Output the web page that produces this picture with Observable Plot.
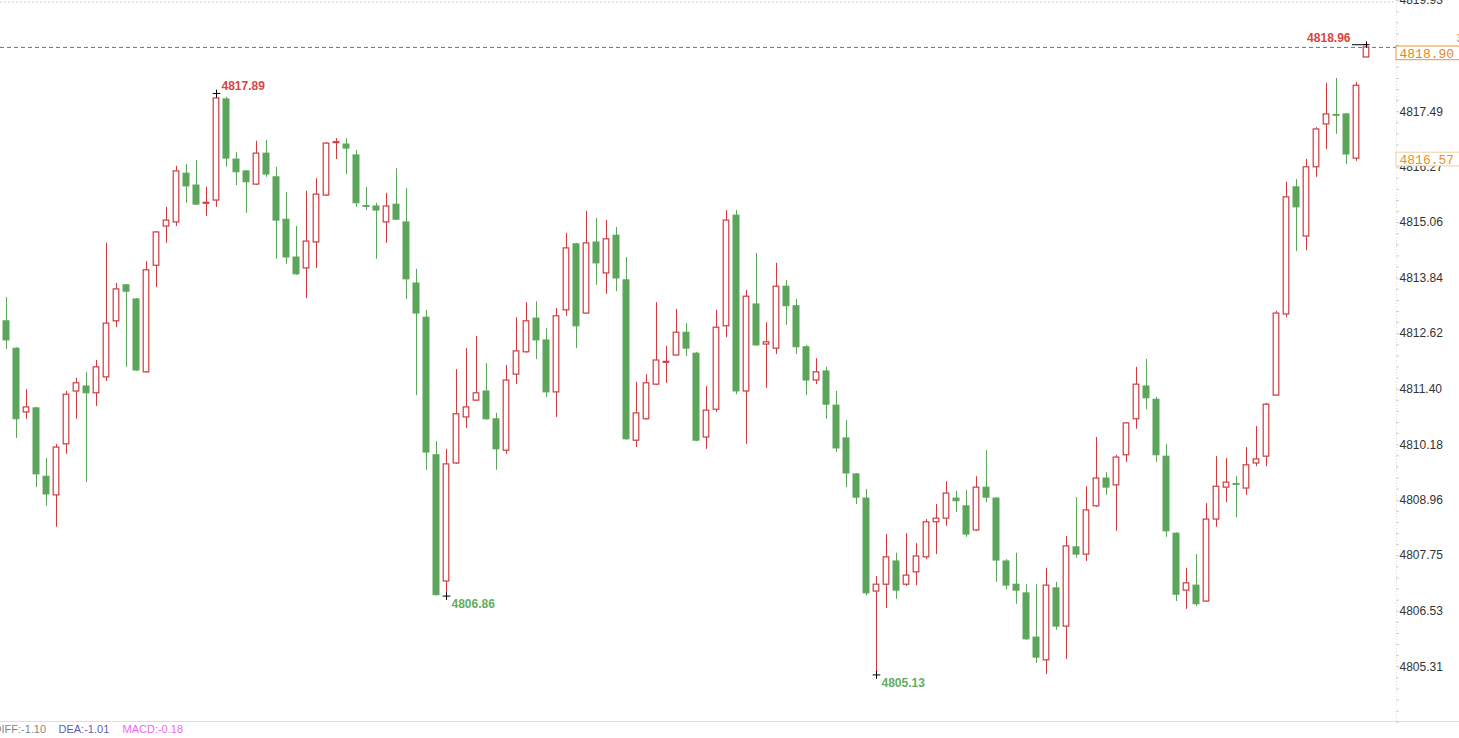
<!DOCTYPE html>
<html><head><meta charset="utf-8">
<script src="https://cdn.jsdelivr.net/npm/d3@7"></script>
<script src="https://cdn.jsdelivr.net/npm/@observablehq/plot@0.6"></script>
<style>html,body{margin:0;padding:0;background:#fff;overflow:hidden}</style>
</head><body><div id="chart"></div>
<script>
const open = [4812.89,4812.29,4810.89,4810.98,4809.48,4809.07,4810.19,4811.35,4811.46,4811.31,
4811.66,4812.89,4813.68,4813.37,4811.77,4814.11,4814.97,4815.06,4816.13,4815.87,
4815.47,4815.54,4817.76,4816.44,4816.18,4815.89,4816.57,4816.05,4815.12,4814.29,
4814.05,4814.62,4815.65,4816.80,4816.77,4816.53,4815.42,4815.41,4815.06,4815.45,
4815.06,4813.72,4812.97,4809.95,4807.18,4809.77,4810.78,4811.15,4811.35,4810.74,
4810.05,4811.72,4812.21,4812.95,4812.47,4811.33,4813.13,4814.58,4813.06,4814.62,
4813.94,4814.77,4813.79,4810.27,4810.74,4811.50,4811.98,4812.14,4812.64,4812.18,
4810.34,4810.95,4812.78,4815.21,4811.35,4813.26,4812.38,4812.29,4813.65,4813.22,
4812.32,4811.59,4811.79,4811.04,4810.32,4809.53,4809.00,4806.96,4807.11,4807.62,
4807.11,4807.38,4807.71,4808.48,4808.56,4809.00,4808.83,4808.30,4809.24,4809.00,
4807.62,4807.11,4806.92,4805.95,4805.45,4807.03,4806.19,4807.93,4807.77,4808.83,
4809.44,4809.29,4809.95,4810.74,4811.46,4811.17,4809.92,4808.23,4806.98,4807.09,
4806.74,4808.54,4809.24,4809.32,4809.22,4809.77,4809.92,4811.26,4813.04,4815.83,
4814.75,4816.27,4817.21,4817.42,4817.43,4816.46,4818.68];
const high = [4813.41,4812.31,4811.39,4811.00,4809.88,4810.19,4811.35,4811.64,4811.77,4812.03,
4814.60,4813.72,4813.70,4813.39,4814.20,4814.86,4815.39,4816.29,4816.33,4816.42,
4815.83,4817.89,4817.80,4816.59,4816.20,4816.84,4816.86,4816.27,4815.72,4814.97,
4815.74,4816.02,4816.81,4816.90,4816.90,4816.64,4815.83,4815.48,4815.70,4816.24,
4815.80,4814.03,4813.13,4810.25,4810.08,4811.83,4812.29,4812.56,4811.96,4810.87,
4811.92,4812.97,4813.30,4813.32,4812.73,4813.17,4814.82,4814.60,4815.30,4815.15,
4815.10,4814.95,4814.29,4811.55,4811.72,4813.30,4812.34,4813.15,4812.84,4812.21,
4811.46,4813.13,4815.32,4815.32,4813.57,4814.38,4812.86,4814.16,4813.79,4813.37,
4812.36,4812.07,4811.88,4811.35,4810.71,4809.55,4809.20,4807.29,4808.21,4807.80,
4808.23,4808.01,4808.54,4808.87,4809.37,4809.16,4809.18,4809.48,4810.05,4809.02,
4807.66,4807.80,4807.11,4807.11,4807.47,4807.16,4808.17,4809.02,4809.26,4810.34,
4809.57,4809.95,4810.67,4811.88,4812.05,4811.22,4810.19,4808.25,4807.47,4807.77,
4808.89,4809.92,4809.88,4809.48,4810.12,4810.58,4811.09,4813.11,4815.94,4816.00,
4816.44,4817.14,4818.11,4818.22,4817.45,4818.13,4818.96];
const low = [4812.27,4810.32,4810.74,4809.24,4808.83,4808.37,4809.97,4810.74,4809.35,4811.02,
4811.57,4812.75,4811.88,4811.79,4811.75,4813.63,4814.60,4814.97,4815.48,4815.43,
4815.19,4815.39,4816.27,4815.87,4815.26,4815.87,4816.05,4814.25,4814.14,4813.90,
4813.39,4814.05,4815.63,4816.44,4816.11,4815.39,4815.32,4814.25,4814.60,4815.10,
4813.37,4811.26,4809.62,4806.86,4806.86,4809.75,4810.54,4811.13,4810.72,4809.62,
4809.97,4811.50,4812.19,4812.05,4811.22,4810.78,4813.00,4812.29,4813.04,4813.68,
4813.48,4813.54,4810.28,4810.12,4810.72,4811.48,4811.53,4812.12,4812.12,4810.25,
4810.08,4810.89,4812.53,4811.28,4810.19,4812.34,4811.42,4812.16,4812.80,4812.16,
4811.26,4811.50,4810.74,4810.01,4809.24,4808.87,4806.87,4805.13,4806.59,4806.79,
4807.07,4807.09,4807.66,4807.77,4808.39,4808.69,4808.15,4808.28,4808.91,4807.16,
4807.00,4806.68,4805.89,4805.38,4805.14,4806.11,4805.47,4807.69,4807.62,4808.81,
4809.07,4808.28,4809.79,4810.52,4810.95,4809.79,4808.15,4806.74,4806.57,4806.63,
4806.72,4808.37,4808.91,4808.58,4809.07,4809.70,4809.70,4811.24,4812.97,4814.42,
4814.44,4816.05,4816.66,4816.99,4816.33,4816.40,4818.68];
const close = [4812.47,4810.74,4811.00,4809.53,4809.09,4810.12,4811.28,4811.53,4811.31,4811.88,
4812.84,4813.59,4813.54,4811.81,4814.01,4814.84,4815.10,4816.18,4815.85,4815.45,
4815.49,4817.78,4816.46,4816.16,4815.94,4816.57,4816.11,4815.10,4814.29,4813.92,
4814.64,4815.67,4816.79,4816.82,4816.68,4815.48,4815.40,4815.32,4815.41,4815.12,
4813.81,4813.06,4810.01,4806.88,4809.75,4810.85,4811.00,4811.31,4810.74,4810.08,
4811.59,4812.23,4812.89,4812.47,4811.33,4813.00,4814.49,4812.78,4814.60,4814.16,
4814.69,4813.83,4810.30,4810.87,4811.53,4812.03,4812.00,4812.64,4812.29,4810.27,
4810.93,4812.75,4815.10,4811.35,4813.43,4812.36,4812.43,4813.65,4813.22,4812.32,
4811.59,4811.77,4811.06,4810.10,4809.55,4809.02,4806.92,4807.11,4807.71,4806.98,
4807.31,4807.73,4808.48,4808.56,4809.11,4808.94,4808.21,4809.24,4809.02,4807.64,
4807.09,4806.98,4805.91,4805.51,4807.09,4806.19,4807.95,4807.77,4808.74,4809.44,
4809.24,4809.90,4810.65,4811.50,4811.20,4809.95,4808.28,4806.89,4807.14,4806.68,
4808.54,4809.26,4809.35,4809.30,4809.73,4809.86,4811.06,4813.06,4815.61,4815.39,
4816.27,4817.10,4817.43,4817.40,4816.55,4818.06,4818.90];

const tickValues = [4819.93,4817.49,4816.27,4815.06,4813.84,4812.62,4811.40,4810.18,4808.96,4807.75,4806.53,4805.31];
const tickLabels = ["4819.93","4817.49","4816.27","4815.06","4813.84","4812.62","4811.40","4810.18","4808.96","4807.75","4806.53","4805.31"];
const priceBoxes = [
  {label:"4818.90", value:4818.92, stroke:"#e39a3c", fill:"#e0881c"},
  {label:"4816.57", value:4816.59, stroke:"#f3cf9f", fill:"#e8902a"}
];
const highNotes = [{i:21, value:4817.89, label:"4817.89"}];
const lowNotes = [
  {i:44, value:4806.86, label:"4806.86"},
  {i:87, value:4805.13, label:"4805.13"}
];
const lastHigh = {i:136, value:4818.96, label:"4818.96"};
const lastPrice = 4818.90;
const macdTexts = [
  {x:-1.3, label:"DIFF:-1.10", color:"#555"},
  {x:5.2, label:"DEA:-1.01", color:"#22228a"},
  {x:11.6, label:"MACD:-0.18", color:"#e030e0"}
];

const Y_TOP = 4819.93, Y_BOTTOM = 4804.108;
const RED = "#cf3a3f", GREEN = "#5ca65c", LABEL_RED = "#d9463f", LABEL_GREEN = "#62ad62";

const candles = open.map((o, i) => ({i, open:o, high:high[i], low:low[i], close:close[i]}));
const ups = candles.filter(d => d.close >= d.open);
const downs = candles.filter(d => d.close < d.open);
const minorTicks = d3.range(4804.092, 4820, 1.218/5);

const chart = Plot.plot({
  width:1459, height:738,
  marginLeft:0, marginRight:63, marginTop:0, marginBottom:17,
  style:{fontFamily:"'Liberation Sans', Arial, sans-serif", background:"#fff", overflow:"hidden"},
  x:{domain:[-0.6,139], axis:null},
  y:{domain:[Y_BOTTOM, Y_TOP], axis:null},
  marks:[
    Plot.ruleY([Y_TOP - 0.03], {x1:-0.6, x2:139, stroke:"#cfcfcf", strokeDasharray:"2,2"}),
    Plot.ruleX([139], {y1:Y_BOTTOM, y2:Y_TOP, stroke:"#dcdcdc", strokeDasharray:"1,2"}),
    Plot.ruleY(minorTicks, {x1:139, x2:139.3, stroke:"#cfcfcf"}),
    Plot.ruleY([Y_BOTTOM], {x1:-0.6, x2:145.3, stroke:"#dedede"}),
    Plot.ruleY([lastPrice], {x1:-0.6, x2:139, stroke:"#2f86b8", strokeDasharray:"4,3"}),
    // wicks
    Plot.ruleX(downs, {x:"i", y1:"low", y2:"high", stroke:GREEN, strokeWidth:1}),
    Plot.ruleX(ups, {x:"i", y1:"low", y2:"high", stroke:RED, strokeWidth:1}),
    // bodies
    Plot.rect(downs, {x1:d => d.i - 0.3, x2:d => d.i + 0.3, y1:"open", y2:"close", fill:GREEN, stroke:GREEN, strokeWidth:1}),
    Plot.rect(ups, {x1:d => d.i - 0.28, x2:d => d.i + 0.28, y1:"open", y2:"close", fill:"#fff", stroke:RED, strokeWidth:1.2}),
    // axis labels
    Plot.text(tickValues, {x:139, y:d => d, text:(d, i) => tickLabels[i], textAnchor:"start", dx:3, fontSize:12, fill:"#333"}),
    // price boxes
    Plot.rect(priceBoxes, {x1:139, x2:146, y1:"value", y2:d => d.value - 0.3, fill:"#fff", stroke:"stroke", strokeWidth:1}),
    Plot.text(priceBoxes, {x:139, y:"value", text:"label", textAnchor:"start", dx:3, dy:7, fontSize:13, fill:"fill", fontFamily:"'Liberation Mono', 'DejaVu Sans Mono', monospace"}),
    Plot.text(["3"], {x:145, y:4819.10, text:d => d, textAnchor:"start", fontSize:10, fill:"#e0881c"}),
    // high/low annotations
    Plot.dot(highNotes.concat(lowNotes), {x:"i", y:"value", symbol:"plus", r:2.6, stroke:"#000", strokeWidth:1}),
    Plot.text(highNotes, {x:d => d.i + 0.5, y:"value", text:"label", textAnchor:"start", dy:-7, fontSize:12, fontWeight:"bold", fill:LABEL_RED}),
    Plot.text(lowNotes, {x:d => d.i + 0.5, y:"value", text:"label", textAnchor:"start", dy:8, fontSize:12, fontWeight:"bold", fill:LABEL_GREEN}),
    Plot.ruleY([lastHigh], {y:"value", x1:d => d.i - 1.4, x2:d => d.i + 0.15, stroke:"#000", strokeWidth:1}),
    Plot.dot([lastHigh], {x:"i", y:"value", symbol:"plus", r:2.2, stroke:"#000", strokeWidth:1}),
    Plot.text([lastHigh], {x:d => d.i - 1.6, y:"value", text:"label", textAnchor:"end", dy:-7, fontSize:12, fontWeight:"bold", fill:LABEL_RED}),
    // indicator legend at bottom
    Plot.text(macdTexts, {x:"x", y:4803.93, text:"label", textAnchor:"start", fontSize:11, fill:"color", fillOpacity:0.75})
  ]
});
document.getElementById("chart").appendChild(chart);
</script>
</body></html>
